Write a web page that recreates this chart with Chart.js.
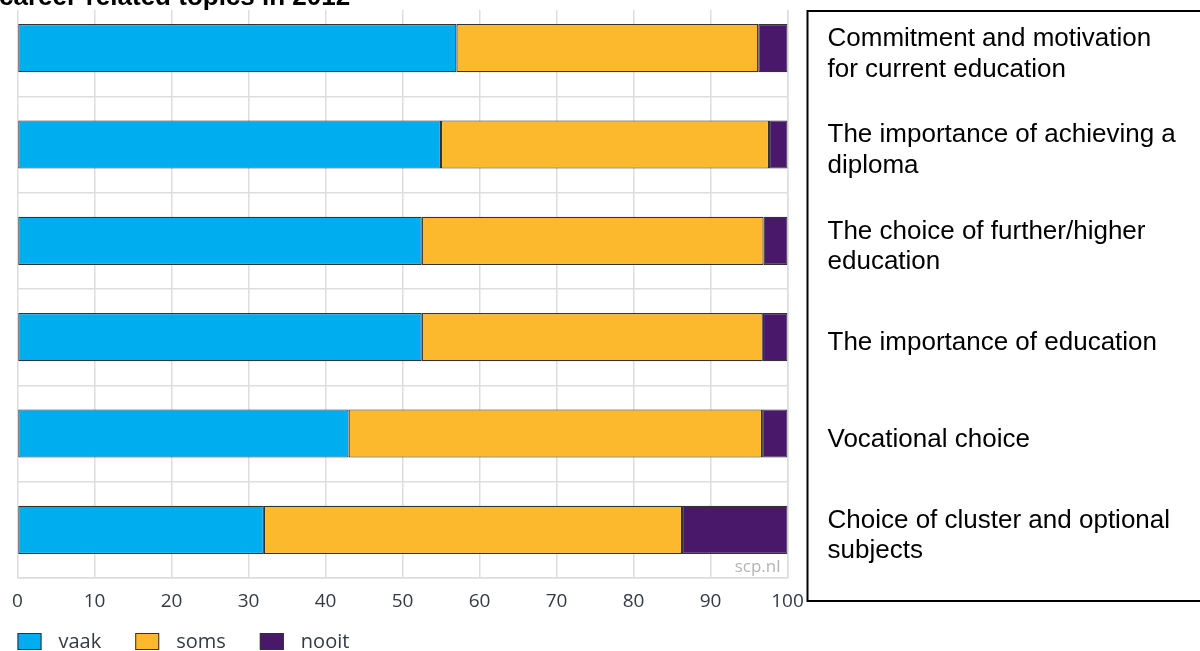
<!DOCTYPE html>
<html>
<head>
<meta charset="utf-8">
<script src="https://cdn.jsdelivr.net/npm/chart.js@4.4.1/dist/chart.umd.min.js"></script>
<style>
  html, body { margin: 0; padding: 0; background: #fff; }
  #wrap { width: 1200px; height: 651px; }
</style>
</head>
<body>
<div id="wrap"><canvas id="chart" width="1200" height="651"></canvas></div>
<script>
// Topics (one per bar, top to bottom)
const topics = [
    ['Commitment and motivation', 'for current education'],
    ['The importance of achieving a', 'diploma'],
    ['The choice of further/higher', 'education'],
    'The importance of education',
    'Vocational choice',
    ['Choice of cluster and optional', 'subjects']
];

// Percentages
const vaak  = [57.0, 55.0, 52.5, 52.5, 43.0, 32.0];
const soms  = [39.2, 42.6, 44.4, 44.3, 53.7, 54.3];
const nooit = [3.8, 2.4, 3.1, 3.2, 3.3, 13.7];

const seriesNames = ['vaak', 'soms', 'nooit'];
const seriesColors = ['#00adef', '#fdb92e', '#4a186b'];
const xTicks = [0, 10, 20, 30, 40, 50, 60, 70, 80, 90, 100];

const titleText = 'career-related topics in 2012';
const watermark = 'scp.nl';

const gridColor = '#dddddd';
const tickFont = "'Open Sans', 'DejaVu Sans', sans-serif";
const labelFont = "'Liberation Sans', Arial, sans-serif";

// Extra drawing: title strip, label box, watermark, legend
const decorations = {
    id: 'decorations',
    afterDraw(chart) {
        const ctx = chart.ctx;
        const area = chart.chartArea;
        ctx.save();

        // title strip at the very top (mostly cut off)
        ctx.fillStyle = '#fff';
        ctx.fillRect(0, 0, area.right + 2, 10);
        ctx.fillStyle = '#000';
        ctx.font = "bold 26px " + labelFont;
        ctx.textBaseline = 'alphabetic';
        ctx.textAlign = 'left';
        ctx.fillText(titleText, -1, 5);

        // box around the category labels
        ctx.strokeStyle = '#000';
        ctx.lineWidth = 2;
        ctx.strokeRect(area.right + 20, 11, chart.width, area.bottom + 23 - 11);

        // watermark
        ctx.fillStyle = '#b4b4b4';
        ctx.font = "17px " + tickFont;
        ctx.textAlign = 'right';
        ctx.textBaseline = 'middle';
        ctx.fillText(watermark, area.right - 7, area.bottom - 11);

        // legend
        ctx.font = "20px " + tickFont;
        ctx.textAlign = 'left';
        let x = area.left;
        const y = 633;
        chart.data.datasets.forEach(ds => {
            ctx.fillStyle = ds.backgroundColor;
            ctx.fillRect(x, y, 24, 17);
            ctx.strokeStyle = '#333';
            ctx.lineWidth = 1;
            ctx.strokeRect(x + 0.5, y + 0.5, 23, 16);
            ctx.fillStyle = '#333a44';
            ctx.fillText(ds.label, x + 41, y + 9);
            x += 41 + ctx.measureText(ds.label).width + 34;
        });

        ctx.restore();
    }
};

function initializeChart() {
    const ctx = document.getElementById('chart').getContext('2d');
    const values = [vaak, soms, nooit];

    new Chart(ctx, {
        type: 'bar',
        data: {
            labels: topics,
            datasets: seriesNames.map((name, i) => ({
                label: name,
                data: values[i],
                backgroundColor: seriesColors[i],
                borderColor: '#333333',
                borderWidth: 1.2,
                borderSkipped: false,
                barPercentage: 0.5,
                categoryPercentage: 1.0
            }))
        },
        options: {
            indexAxis: 'y',
            responsive: false,
            devicePixelRatio: 1,
            animation: false,
            layout: {
                padding: { left: 17.5, top: 0, right: 0, bottom: 0 }
            },
            plugins: {
                legend: { display: false },
                tooltip: { enabled: false }
            },
            scales: {
                x: {
                    stacked: true,
                    min: 0,
                    max: 100,
                    afterBuildTicks: scale => {
                        scale.ticks = xTicks.map(v => ({ value: v }));
                    },
                    afterFit: scale => {
                        scale.height = 73;
                        scale.paddingRight = 0;
                    },
                    grid: { color: gridColor, lineWidth: 1.5, drawTicks: false },
                    border: { color: gridColor, width: 1.5 },
                    ticks: {
                        padding: 12,
                        maxRotation: 0,
                        color: '#333a44',
                        font: { family: tickFont, size: 19 }
                    }
                },
                y: {
                    stacked: true,
                    position: 'right',
                    afterFit: scale => {
                        scale.width = 412.5;
                        scale.paddingTop = 0;
                        scale.paddingBottom = 0;
                    },
                    grid: { color: gridColor, lineWidth: 1.5, drawTicks: false, offset: true },
                    border: { color: gridColor, width: 1.5 },
                    ticks: {
                        padding: 40,
                        labelOffset: 6,
                        color: '#000',
                        crossAlign: 'near',
                        font: { family: labelFont, size: 26, lineHeight: 1.19 }
                    }
                }
            }
        },
        plugins: [decorations]
    });
}

document.addEventListener('DOMContentLoaded', initializeChart);
</script>
</body>
</html>
